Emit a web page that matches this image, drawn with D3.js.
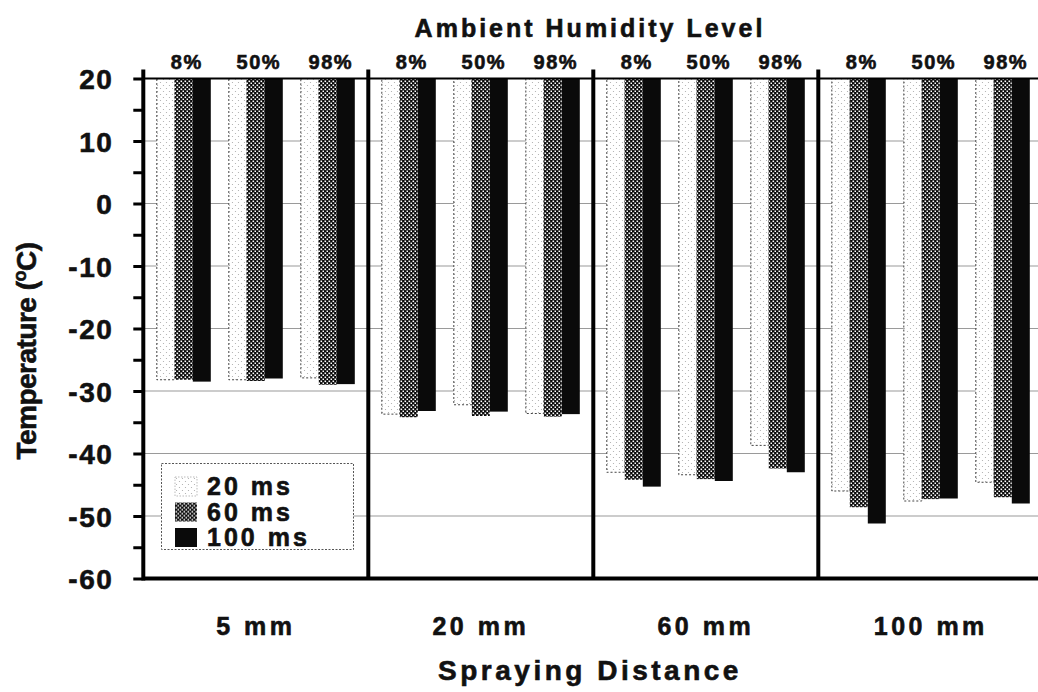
<!DOCTYPE html>
<html>
<head>
<meta charset="utf-8">
<script src="https://cdn.jsdelivr.net/npm/d3@7"></script>
<style>
  html, body { margin: 0; padding: 0; background: #fff; }
  svg { display: block; }
  text { font-family: "Liberation Sans", Arial, Helvetica, sans-serif; font-weight: bold; fill: #111; stroke: #111; stroke-width: 0.6px; }
</style>
</head>
<body>
<svg id="chart" width="1038" height="692"></svg>
<script>
// Spraying distance groups, humidity sub-groups, pulse-duration series
const distances = ["5 mm", "20 mm", "60 mm", "100 mm"];
const humidity = ["8%", "50%", "98%"];
const pulses = ["20 ms", "60 ms", "100 ms"];

// Temperature (°C) per distance × humidity, one array per pulse duration
const temp20ms  = [-28.2, -28.2, -27.9,  -33.7, -32.2, -33.6,  -43.0, -43.4, -38.7,  -46.0, -47.6, -44.6];
const temp60ms  = [-28.2, -28.4, -29.0,  -34.2, -34.0, -34.1,  -44.2, -44.1, -42.4,  -48.6, -47.3, -47.0];
const temp100ms = [-28.5, -28.0, -28.9,  -33.2, -33.3, -33.7,  -45.3, -44.4, -43.0,  -51.2, -47.2, -48.0];

const yTicks = [20, 10, 0, -10, -20, -30, -40, -50, -60];
const yMinorTicks = [15, 5, -5, -15, -25, -35, -45, -55];

const series = [temp20ms, temp60ms, temp100ms];
const rows = [];
distances.forEach((d, di) => humidity.forEach((h, hi) => pulses.forEach((p, pi) => {
  rows.push({ distance: d, humidity: h, pulse: p, value: series[pi][di * humidity.length + hi] });
})));

const svg = d3.select("#chart");
const plotLeft = 143.3, plotTop = 78.5, plotBottom = 578.5, groupW = 225;

const x0 = d3.scaleBand().domain(distances).range([plotLeft, plotLeft + groupW * distances.length]).padding(0);
const x1 = d3.scaleBand().domain(humidity).range([0, groupW]).paddingInner(0.25).paddingOuter(0.1875);
const x2 = d3.scaleBand().domain(pulses).range([0, x1.bandwidth()]).padding(0);
const y = d3.scaleLinear().domain([-60, 20]).range([plotBottom, plotTop]);

// Fill patterns
const defs = svg.append("defs");
const pLight = defs.append("pattern").attr("id", "pat20").attr("patternUnits", "userSpaceOnUse")
  .attr("width", 6).attr("height", 6);
pLight.append("rect").attr("width", 6).attr("height", 6).attr("fill", "#fff");
pLight.append("circle").attr("cx", 1.5).attr("cy", 1.5).attr("r", 0.6).attr("fill", "#aaa");
pLight.append("circle").attr("cx", 4.5).attr("cy", 4.5).attr("r", 0.6).attr("fill", "#aaa");

const pDot = defs.append("pattern").attr("id", "pat60").attr("patternUnits", "userSpaceOnUse")
  .attr("width", 4).attr("height", 4);
pDot.append("rect").attr("width", 4).attr("height", 4).attr("fill", "#0a0a0a");
pDot.append("rect").attr("x", 0.5).attr("y", 0.5).attr("width", 1.6).attr("height", 1.6).attr("fill", "#fff");
pDot.append("rect").attr("x", 2.5).attr("y", 2.5).attr("width", 1.6).attr("height", 1.6).attr("fill", "#fff");

const fills = { "20 ms": "url(#pat20)", "60 ms": "url(#pat60)", "100 ms": "#0a0a0a" };

// Horizontal grid lines
svg.append("g").selectAll("line").data(yTicks.filter(t => t < 20 && t > -60)).join("line")
  .attr("x1", plotLeft).attr("x2", 1038)
  .attr("y1", d => y(d)).attr("y2", d => y(d))
  .attr("stroke", "#9a9a9a").attr("stroke-width", 1.2);

// Bars hang from the top of the axis (20 °C) down to each value
svg.append("g").selectAll("rect").data(rows).join("rect")
  .attr("x", d => x0(d.distance) + x1(d.humidity) + x2(d.pulse))
  .attr("y", y(20))
  .attr("width", x2.bandwidth())
  .attr("height", d => y(d.value) - y(20))
  .attr("fill", d => fills[d.pulse])
  .attr("stroke", d => d.pulse === "20 ms" ? "#444" : "none")
  .attr("stroke-width", 1)
  .attr("stroke-dasharray", d => d.pulse === "20 ms" ? "2,2" : null);

// Group separators
svg.append("g").selectAll("line").data(distances.slice(1)).join("line")
  .attr("x1", d => x0(d)).attr("x2", d => x0(d))
  .attr("y1", plotTop - 9).attr("y2", plotBottom)
  .attr("stroke", "#000").attr("stroke-width", 4);

// Top and bottom axis lines
svg.append("line").attr("x1", plotLeft).attr("x2", 1038).attr("y1", plotTop).attr("y2", plotTop)
  .attr("stroke", "#000").attr("stroke-width", 2);
svg.append("line").attr("x1", plotLeft).attr("x2", 1038).attr("y1", plotBottom).attr("y2", plotBottom)
  .attr("stroke", "#000").attr("stroke-width", 4);

// Left axis
const yAxis = svg.append("g").attr("transform", `translate(${plotLeft},0)`)
  .call(d3.axisLeft(y).tickValues(yTicks).tickSize(10).tickFormat(d => String(d)));
yAxis.select(".domain").remove();
yAxis.selectAll(".tick line").attr("stroke", "#000").attr("stroke-width", 3);
yAxis.selectAll(".tick text").attr("x", -30).attr("dy", "0.36em")
  .style("font-size", "28px").style("letter-spacing", "1.5px")
  .style("font-family", '"Liberation Sans", Arial, sans-serif').style("font-weight", "bold")
  .attr("fill", "#111").style("stroke", "#111").style("stroke-width", "0.6px");
svg.append("g").attr("transform", `translate(${plotLeft},0)`)
  .call(d3.axisLeft(y).tickValues(yMinorTicks).tickSize(10).tickFormat(""))
  .call(g => g.select(".domain").remove())
  .selectAll(".tick line").attr("stroke", "#000").attr("stroke-width", 3);
svg.append("line").attr("x1", plotLeft).attr("x2", plotLeft).attr("y1", plotTop - 9).attr("y2", plotBottom + 2)
  .attr("stroke", "#000").attr("stroke-width", 4);

// Humidity labels above each sub-group
svg.append("g").selectAll("text").data(distances.flatMap(d => humidity.map(h => ({ d, h })))).join("text")
  .attr("x", v => x0(v.d) + x1(v.h) + x1.bandwidth() / 2 + 3)
  .attr("y", 69)
  .attr("text-anchor", "middle")
  .style("font-size", "20px").style("letter-spacing", "1.5px")
  .text(v => v.h);

// Distance labels
svg.append("g").selectAll("text").data(distances).join("text")
  .attr("x", d => x0(d) + groupW / 2)
  .attr("y", 635)
  .attr("text-anchor", "middle")
  .style("font-size", "25px").style("letter-spacing", "3.5px")
  .text(d => d);

// Titles
svg.append("text").attr("x", 590).attr("y", 37).attr("text-anchor", "middle")
  .style("font-size", "25px").style("letter-spacing", "3px")
  .text("Ambient Humidity Level");
svg.append("text").attr("x", 590).attr("y", 680).attr("text-anchor", "middle")
  .style("font-size", "28px").style("letter-spacing", "3.5px")
  .text("Spraying Distance");
const yTitle = svg.append("text").attr("transform", "translate(36,351) rotate(-90)")
  .attr("text-anchor", "middle").style("font-size", "28px").style("letter-spacing", "-0.5px");
yTitle.append("tspan").text("Temperature (");
yTitle.append("tspan").attr("dy", -10).style("font-size", "18px").text("o");
yTitle.append("tspan").attr("dy", 10).text("C)");

// Legend
const legend = svg.append("g");
legend.append("rect").attr("x", 161.5).attr("y", 463.5).attr("width", 192).attr("height", 86)
  .attr("fill", "#fff").attr("stroke", "#555").attr("stroke-width", 1).attr("stroke-dasharray", "2,1.5");
const item = legend.selectAll("g.item").data(pulses).join("g").attr("class", "item")
  .attr("transform", (d, i) => `translate(175,${477 + i * 25.5})`);
item.append("rect").attr("width", 22).attr("height", 19)
  .attr("fill", d => fills[d])
  .attr("stroke", d => d === "20 ms" ? "#bbb" : "none").attr("stroke-dasharray", "1.5,1.5");
item.append("text").attr("x", 32).attr("y", 18)
  .style("font-size", "25px").style("letter-spacing", "3px")
  .text(d => d);
</script>
</body>
</html>
